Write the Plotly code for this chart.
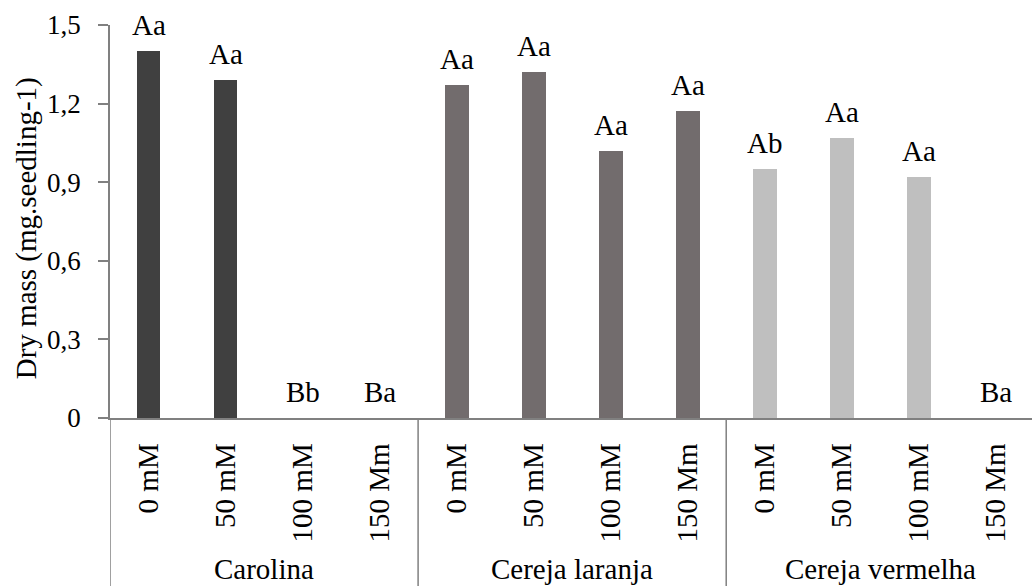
import plotly.graph_objects as go

# Cultivars and NaCl concentrations
cultivars = ["Carolina", "Cereja laranja", "Cereja vermelha"]
concentrations = ["0 mM", "50 mM", "100 mM", "150 Mm"]

# Dry mass (mg.seedling-1) per cultivar, one value per concentration
dry_carolina = [1.40, 1.29, 0.0, 0.0]
dry_laranja = [1.27, 1.32, 1.02, 1.17]
dry_vermelha = [0.95, 1.07, 0.92, 0.0]

# Mean-comparison letters shown above each bar
letters_carolina = ["Aa", "Aa", "Bb", "Ba"]
letters_laranja = ["Aa", "Aa", "Aa", "Aa"]
letters_vermelha = ["Ab", "Aa", "Aa", "Ba"]

bar_colors = ["#404040", "#726c6d", "#bfbfbf"]

y_ticks = [0, 0.3, 0.6, 0.9, 1.2, 1.5]
y_tick_text = ["0", "0,3", "0,6", "0,9", "1,2", "1,5"]

FONT = "'Liberation Serif', 'Times New Roman', 'DejaVu Serif', serif"
AXIS_GRAY = "#808080"

series = [dry_carolina, dry_laranja, dry_vermelha]
letters = [letters_carolina, letters_laranja, letters_vermelha]

fig = go.Figure()
annotations = []
tick_pos, tick_txt = [], []
n = len(concentrations)

for g, (name, vals, labs) in enumerate(zip(cultivars, series, letters)):
    xs = [g * n + k for k in range(n)]
    tick_pos += xs
    tick_txt += concentrations
    fig.add_trace(go.Bar(
        x=xs, y=vals, name=name, width=0.31,
        marker=dict(color=bar_colors[g], line=dict(width=0)),
        showlegend=False,
    ))
    for x, v, t in zip(xs, vals, labs):
        annotations.append(dict(
            x=x, y=v, xref="x", yref="y", text=t, showarrow=False,
            yanchor="bottom", yshift=8,
            font=dict(family=FONT, size=29, color="black"),
        ))
    # cultivar name below the concentration labels
    annotations.append(dict(
        x=g * n + (n - 1) / 2, y=-0.385, xref="x", yref="paper",
        text=name, showarrow=False, yanchor="middle",
        font=dict(family=FONT, size=29, color="black"),
    ))

# y-axis title
annotations.append(dict(
    x=-0.091, y=0.483, xref="paper", yref="paper",
    text="Dry mass (mg.seedling-1)", textangle=-90, showarrow=False,
    xanchor="center", yanchor="middle",
    font=dict(family=FONT, size=29, color="black"),
))

# group separators running below the category axis
shapes = []
for g in range(len(cultivars) + 1):
    shapes.append(dict(
        type="line", xref="x", yref="paper",
        x0=g * n - 0.5, x1=g * n - 0.5, y0=0, y1=-0.45,
        line=dict(color=AXIS_GRAY, width=1.5),
    ))

fig.update_layout(
    width=1032, height=586,
    margin=dict(l=110, r=0, t=25, b=168),
    paper_bgcolor="white", plot_bgcolor="white",
    bargap=0,
    annotations=annotations,
    shapes=shapes,
    font=dict(family=FONT, color="black"),
)

fig.update_xaxes(
    range=[-0.5, 11.47],
    tickvals=tick_pos, ticktext=tick_txt,
    tickangle=-90, ticks="",
    tickfont=dict(family=FONT, size=29, color="black"),
    ticklabelstandoff=12,
    showline=True, linecolor=AXIS_GRAY, linewidth=1.5,
    showgrid=False, zeroline=False,
)
fig.update_yaxes(
    range=[0, 1.5],
    tickvals=y_ticks, ticktext=y_tick_text,
    ticks="outside", ticklen=10, tickcolor=AXIS_GRAY, tickwidth=1.5,
    tickfont=dict(family=FONT, size=27, color="black"),
    ticklabelstandoff=12,
    showline=True, linecolor=AXIS_GRAY, linewidth=1.5,
    showgrid=False, zeroline=False,
)

fig.write_html("out.html")
